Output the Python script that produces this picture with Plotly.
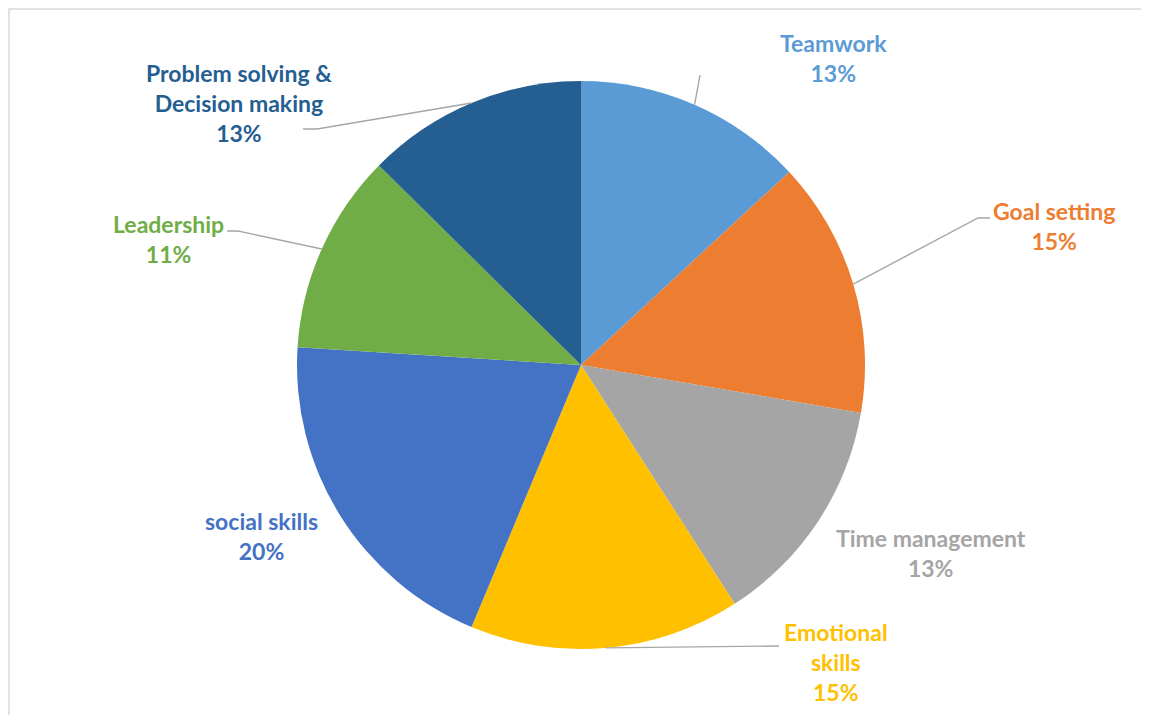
import math
import plotly.graph_objects as go

# ---- data ----
categories = ["Teamwork", "Goal setting", "Time management", "Emotional skills",
              "social skills", "Leadership", "Problem solving & Decision making"]
display_labels = ["Teamwork", "Goal setting", "Time management", "Emotional<br>skills",
                  "social skills", "Leadership", "Problem solving &<br>Decision making"]
values = [13.1, 14.6, 13.2, 15.4, 19.7, 11.4, 12.6]
colors = ["#5B9BD5", "#ED7D31", "#A5A5A5", "#FFC000", "#4472C4", "#70AD47", "#255E91"]

# ---- layout (screen pixels; page body has an 8px margin) ----
OFF = 8
W, H = 1149 - OFF, 715 - OFF
CX, CY, R = 581, 365, 284
# label centres (px) and leader-line outer points (px) per slice
label_pos = [(833, 58), (1054, 226), (931, 553), (836, 662), (261, 536), (168, 239), (239, 103)]
leader_pts = [[(700, 75)], [(978, 218), (990, 218)], None, [(779, 646)], None,
              [(238, 231), (227, 231)], [(317, 129), (303, 129)]]

def px(x):
    return (x - OFF) / W

def py(y):
    return 1 - (y - OFF) / H

fig = go.Figure(go.Pie(
    labels=categories, values=values, sort=False, direction="clockwise", rotation=0,
    marker=dict(colors=colors, line=dict(width=0)),
    textinfo="none", hoverinfo="label+percent", showlegend=False,
    domain=dict(x=[px(CX - R), px(CX + R)], y=[py(CY + R), py(CY - R)]),
))

total = sum(values)
cum = 0.0
shapes = []
annotations = []
for i, v in enumerate(values):
    mid = (cum + v / 2) / total * 2 * math.pi
    cum += v
    ex = CX + R * math.sin(mid)
    ey = CY - R * math.cos(mid)
    if leader_pts[i]:
        pts = [(ex, ey)] + leader_pts[i]
        path = "M " + " L ".join(f"{px(a):.5f},{py(b):.5f}" for a, b in pts)
        shapes.append(dict(type="path", xref="paper", yref="paper", path=path,
                           line=dict(color="#A6A6A6", width=1.4)))
    pct = round(v / total * 100)
    lx, ly = label_pos[i]
    annotations.append(dict(
        x=px(lx), y=py(ly), xref="paper", yref="paper", showarrow=False,
        text=f"{display_labels[i]}<br>{pct}%", align="center",
        xanchor="center", yanchor="middle",
        font=dict(family="Lato", size=23, color=colors[i], weight="bold"),
    ))

# chart border: only the top and left edges are visible in the frame
shapes.append(dict(type="path", xref="paper", yref="paper",
                   path=f"M {px(OFF + 1):.5f},0 L {px(OFF + 1):.5f},{py(OFF + 1):.5f} L 1,{py(OFF + 1):.5f}",
                   line=dict(color="#D9D9D9", width=1.5)))

fig.update_layout(
    width=W, height=H, margin=dict(l=0, r=0, t=0, b=0),
    paper_bgcolor="white", plot_bgcolor="white",
    shapes=shapes, annotations=annotations,
)
fig.write_html("out.html")
